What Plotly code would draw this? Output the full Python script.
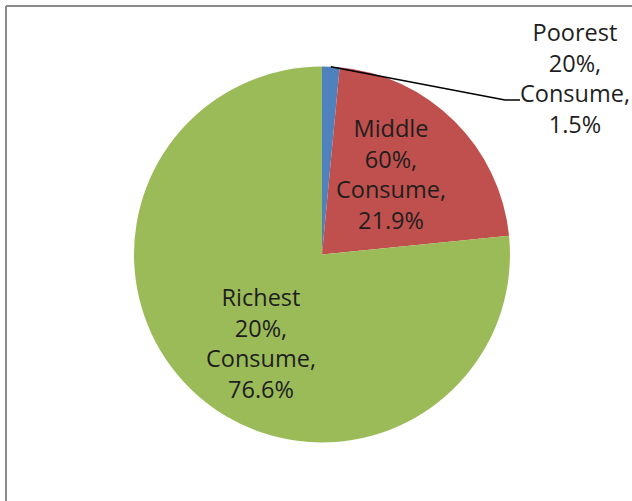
import math
import plotly.graph_objects as go

# Share of consumption by population group
groups = ["Poorest", "Middle", "Richest"]
population_share = [20, 60, 20]
consumption_share = [1.5, 21.9, 76.6]
slice_colors = ["#4F81BD", "#C0504D", "#9BBB59"]

W, H = 632, 501
# pie box in pixels (left, top, right, bottom)
PIE_L, PIE_T, PIE_R, PIE_B = 134, 66, 510, 443
cx, cy = (PIE_L + PIE_R) / 2, (PIE_T + PIE_B) / 2
radius = min(PIE_R - PIE_L, PIE_B - PIE_T) / 2


def px(x):
    return x / W


def py(y):
    return 1 - y / H


fig = go.Figure(
    go.Pie(
        labels=groups,
        values=consumption_share,
        sort=False,
        direction="clockwise",
        rotation=0,
        marker=dict(colors=slice_colors, line=dict(width=0)),
        textinfo="none",
        textposition="none",
        hoverinfo="label+percent",
        domain=dict(x=[px(PIE_L), px(PIE_R)], y=[py(PIE_B), py(PIE_T)]),
        showlegend=False,
    )
)

# label block centres in pixels
label_pos = {"Poorest": (575, 78), "Middle": (391, 174), "Richest": (261, 343)}

annotations = []
for name, pop, cons in zip(groups, population_share, consumption_share):
    lx, ly = label_pos[name]
    annotations.append(
        dict(
            x=px(lx), y=py(ly), xref="paper", yref="paper",
            xanchor="center", yanchor="middle",
            text=f"{name}<br>{pop}%,<br>Consume,<br>{cons}%",
            showarrow=False, align="center",
            font=dict(family="Open Sans", size=23.5, color="#1e1e1e"),
        )
    )

# leader line from the middle of the smallest slice to its label
total = sum(consumption_share)
mid_angle = math.radians(consumption_share[0] / total * 360 / 2)
sx = cx + radius * math.sin(mid_angle)
sy = cy - radius * math.cos(mid_angle)
leader_x = [sx, 505, 520]
leader_y = [sy, 100, 100]
path = "M {} {} L {} {} L {} {}".format(
    px(leader_x[0]), py(leader_y[0]),
    px(leader_x[1]), py(leader_y[1]),
    px(leader_x[2]), py(leader_y[2]),
)

shapes = [
    dict(type="path", xref="paper", yref="paper", path=path,
         line=dict(color="#000000", width=1.5)),
    # chart frame (top and left edges)
    dict(type="line", xref="paper", yref="paper",
         x0=px(6), y0=py(6), x1=1.05, y1=py(6),
         line=dict(color="#8a8a8a", width=2)),
    dict(type="line", xref="paper", yref="paper",
         x0=px(6), y0=py(6), x1=px(6), y1=-0.05,
         line=dict(color="#8a8a8a", width=2)),
]

fig.update_layout(
    width=W, height=H,
    margin=dict(l=0, r=0, t=0, b=0),
    paper_bgcolor="#ffffff",
    plot_bgcolor="#ffffff",
    annotations=annotations,
    shapes=shapes,
)

fig.write_html("out.html")
